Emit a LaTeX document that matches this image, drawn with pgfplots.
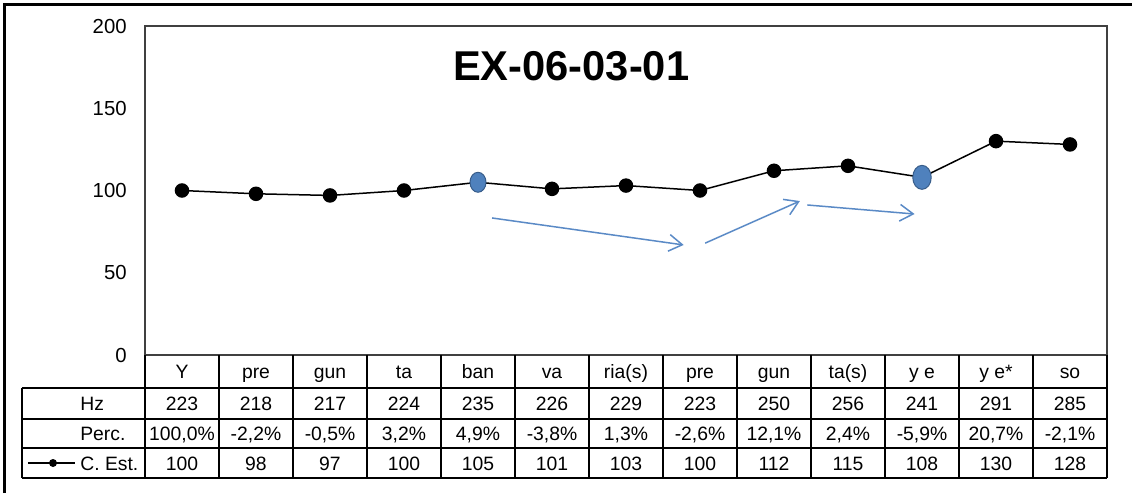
\documentclass[border=0pt]{standalone}
\usepackage{pgfplots}
\pgfplotsset{compat=1.18}
\usepackage{fontspec}
\setmainfont{Liberation Sans}
\usetikzlibrary{arrows.meta}
\definecolor{hlblue}{HTML}{4F81BD}
\definecolor{hledge}{HTML}{385D8A}
\definecolor{arrblue}{HTML}{5A8AC6}
\definecolor{boxgray}{HTML}{404040}

% table rows
\def\syls{Y,pre,gun,ta,ban,va,ria(s),pre,gun,ta(s),y e,y e*,so}
\def\hzs{223,218,217,224,235,226,229,223,250,256,241,291,285}
\def\percs{{100,0\%},{-2,2\%},{-0,5\%},{3,2\%},{4,9\%},{-3,8\%},{1,3\%},{-2,6\%},{12,1\%},{2,4\%},{-5,9\%},{20,7\%},{-2,1\%}}
\def\ests{100,98,97,100,105,101,103,100,112,115,108,130,128}

\begin{document}
\begin{tikzpicture}
\begin{axis}[
    at={(0,0)}, anchor=south west,
    scale only axis,
    width=577.2pt, height=197.4pt,
    xmin=-0.5, xmax=12.5,
    ymin=0, ymax=200,
    xtick=\empty,
    ytick={0,50,100,150,200},
    tick style={draw=none},
    axis line style={boxgray, line width=1.1pt},
    /pgf/number format/assume math mode=true,
    yticklabel style={font=\fontsize{12.2}{14}\selectfont, inner sep=0pt, xshift=-10.8pt},
    clip=false,
]
% C. Est. series
\addplot[black, line width=0.9pt, mark=*, mark size=3.9pt] coordinates {
    (0,100) (1,98) (2,97) (3,100) (4,105) (5,101) (6,103)
    (7,100) (8,112) (9,115) (10,108) (11,130) (12,128)
};
% highlighted points
\addplot[only marks, mark=*, mark size=6pt,
    mark options={xscale=0.8, fill=hlblue, draw=hledge, line width=0.6pt}] coordinates {(4,105)};
\addplot[only marks, mark=*, mark size=7.2pt,
    mark options={xscale=0.77, fill=hlblue, draw=hledge, line width=0.6pt}] coordinates {(10,108)};

% annotation arrows
\draw[arrblue, line width=0.9pt, -{Straight Barb[length=8pt,width=10pt]}]
    (axis cs:4.19,83.3) -- (axis cs:6.78,66.9);
\draw[arrblue, line width=0.9pt, -{Straight Barb[length=8pt,width=10pt]}]
    (axis cs:7.07,68) -- (axis cs:8.35,93.6);
\draw[arrblue, line width=0.9pt, -{Straight Barb[length=8pt,width=10pt]}]
    (axis cs:8.45,91.2) -- (axis cs:9.9,85.7);

\node[font=\bfseries\fontsize{25}{30}\selectfont] at (axis cs:5.26,175.7) {EX-06-03-01};
\end{axis}

% data table and frame, in pixel units of the reference
\begin{scope}[x=0.6pt, y=-0.6pt, shift={(-145,-355)}]
  \draw[black, line width=1.8pt] (5,493) -- (5,5) -- (1132,5);
  \begin{scope}[black, line width=1.1pt]
    \foreach \yy in {388,419,448,478} \draw (22,\yy) -- (1107,\yy);
    \draw (22,388) -- (22,478);
    \foreach \i in {0,...,13} \draw ({145+74*\i},355) -- ({145+74*\i},478);
  \end{scope}
  \begin{scope}[font=\fontsize{11.6}{13}\selectfont, every node/.style={anchor=base, inner sep=0pt}]
    \foreach \s [count=\i from 0] in \syls
      \node at ({182+74*\i},378.5) {\s};
    \foreach \s [count=\i from 0] in \hzs
      \node at ({182+74*\i},410.5) {\s};
    \foreach \s [count=\i from 0] in \percs
      \node at ({182+74*\i},440.5) {\s};
    \foreach \s [count=\i from 0] in \ests
      \node at ({182+74*\i},470) {\s};
    \node[anchor=base west] at (80,410.5) {Hz};
    \node[anchor=base west] at (80,440.5) {Perc.};
    \node[anchor=base west] at (80,470) {C. Est.};
  \end{scope}
  \draw[black, line width=0.9pt] (28,463) -- (75,463);
  \fill[black] (53,463) circle[radius=2.4pt];
  \pgfresetboundingbox
  \useasboundingbox (0,0) rectangle (1132,493);
\end{scope}
\end{tikzpicture}
\end{document}
